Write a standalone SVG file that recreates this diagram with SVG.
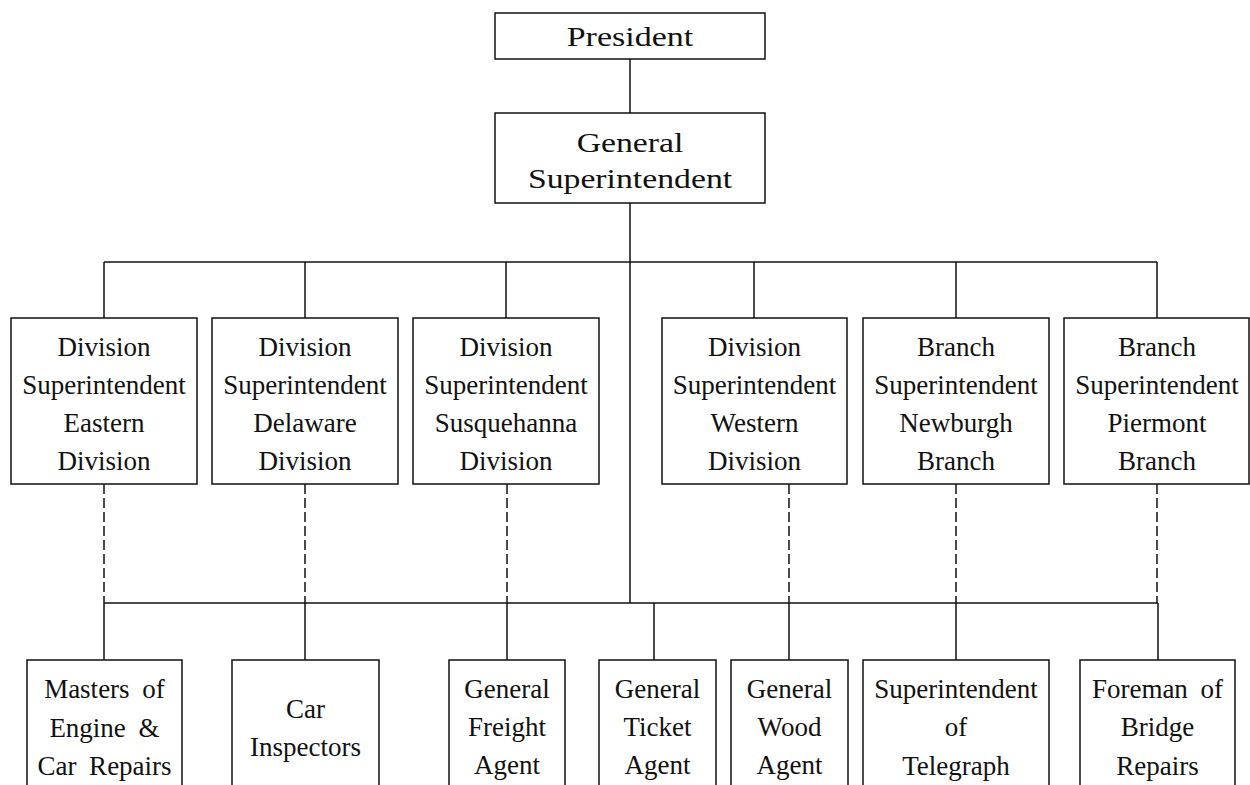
<svg xmlns="http://www.w3.org/2000/svg" width="1250" height="785" viewBox="0 0 1250 785">
<style>
  .box{fill:#fff;stroke:#111;stroke-width:1.5}
  .t{font-family:"Liberation Serif","Times New Roman",serif;font-size:27px;fill:#111;text-anchor:middle}
  .ws{word-spacing:6px}
  .ln{stroke:#111;stroke-width:1.5;fill:none}
  .dash{stroke:#111;stroke-width:1.5;fill:none;stroke-dasharray:10 4}
</style>
<rect width="1250" height="785" fill="#fff"/>
<g id="connectors">
  <line class="ln" x1="630" y1="59" x2="630" y2="113"/>
  <line class="ln" x1="630" y1="203" x2="630" y2="603"/>
  <line class="ln" x1="104" y1="262" x2="1157" y2="262"/>
  <line class="ln" x1="104" y1="262" x2="104" y2="318"/>
  <line class="ln" x1="305" y1="262" x2="305" y2="318"/>
  <line class="ln" x1="506" y1="262" x2="506" y2="318"/>
  <line class="ln" x1="754" y1="262" x2="754" y2="318"/>
  <line class="ln" x1="956" y1="262" x2="956" y2="318"/>
  <line class="ln" x1="1157" y1="262" x2="1157" y2="318"/>
  <line class="dash" x1="104" y1="484" x2="104" y2="603"/>
  <line class="dash" x1="305" y1="484" x2="305" y2="603"/>
  <line class="dash" x1="507" y1="484" x2="507" y2="603"/>
  <line class="dash" x1="789" y1="484" x2="789" y2="603"/>
  <line class="dash" x1="956" y1="484" x2="956" y2="603"/>
  <line class="dash" x1="1157" y1="484" x2="1157" y2="603"/>
  <line class="ln" x1="104" y1="603" x2="1158" y2="603"/>
  <line class="ln" x1="104" y1="603" x2="104" y2="660"/>
  <line class="ln" x1="305" y1="603" x2="305" y2="660"/>
  <line class="ln" x1="507" y1="603" x2="507" y2="660"/>
  <line class="ln" x1="654" y1="603" x2="654" y2="660"/>
  <line class="ln" x1="789" y1="603" x2="789" y2="660"/>
  <line class="ln" x1="956" y1="603" x2="956" y2="660"/>
  <line class="ln" x1="1158" y1="603" x2="1158" y2="660"/>
</g>
<g id="president">
  <rect class="box" x="495" y="13" width="270" height="46"/>
  <text class="t" transform="translate(630,46) scale(1.26,1)">President</text>
</g>
<g id="general-superintendent">
  <rect class="box" x="495" y="113" width="270" height="90"/>
  <text class="t" transform="translate(630,152) scale(1.25,1)">General</text>
  <text class="t" transform="translate(630,188) scale(1.25,1)">Superintendent</text>
</g>
<g id="div-eastern">
  <rect class="box" x="11" y="318" width="186" height="166"/>
  <text class="t" x="104" y="356">Division</text>
  <text class="t" x="104" y="394">Superintendent</text>
  <text class="t" x="104" y="432">Eastern</text>
  <text class="t" x="104" y="470">Division</text>
</g>
<g id="div-delaware">
  <rect class="box" x="212" y="318" width="186" height="166"/>
  <text class="t" x="305" y="356">Division</text>
  <text class="t" x="305" y="394">Superintendent</text>
  <text class="t" x="305" y="432">Delaware</text>
  <text class="t" x="305" y="470">Division</text>
</g>
<g id="div-susquehanna">
  <rect class="box" x="413" y="318" width="186" height="166"/>
  <text class="t" x="506" y="356">Division</text>
  <text class="t" x="506" y="394">Superintendent</text>
  <text class="t" x="506" y="432">Susquehanna</text>
  <text class="t" x="506" y="470">Division</text>
</g>
<g id="div-western">
  <rect class="box" x="662" y="318" width="185" height="166"/>
  <text class="t" x="754.5" y="356">Division</text>
  <text class="t" x="754.5" y="394">Superintendent</text>
  <text class="t" x="754.5" y="432">Western</text>
  <text class="t" x="754.5" y="470">Division</text>
</g>
<g id="branch-newburgh">
  <rect class="box" x="863" y="318" width="186" height="166"/>
  <text class="t" x="956" y="356">Branch</text>
  <text class="t" x="956" y="394">Superintendent</text>
  <text class="t" x="956" y="432">Newburgh</text>
  <text class="t" x="956" y="470">Branch</text>
</g>
<g id="branch-piermont">
  <rect class="box" x="1064" y="318" width="185" height="166"/>
  <text class="t" x="1157" y="356">Branch</text>
  <text class="t" x="1157" y="394">Superintendent</text>
  <text class="t" x="1157" y="432">Piermont</text>
  <text class="t" x="1157" y="470">Branch</text>
</g>
<g id="masters">
  <rect class="box" x="27" y="660" width="155" height="140"/>
  <text class="t ws" x="104.5" y="698">Masters of</text>
  <text class="t ws" x="104.5" y="737">Engine &amp;</text>
  <text class="t ws" x="104.5" y="775">Car Repairs</text>
</g>
<g id="car-inspectors">
  <rect class="box" x="232" y="660" width="147" height="140"/>
  <text class="t" x="305.5" y="718">Car</text>
  <text class="t" x="305.5" y="756">Inspectors</text>
</g>
<g id="freight-agent">
  <rect class="box" x="449" y="660" width="116" height="140"/>
  <text class="t" x="507" y="698">General</text>
  <text class="t" x="507" y="736">Freight</text>
  <text class="t" x="507" y="774">Agent</text>
</g>
<g id="ticket-agent">
  <rect class="box" x="599" y="660" width="117" height="140"/>
  <text class="t" x="657.5" y="698">General</text>
  <text class="t" x="657.5" y="736">Ticket</text>
  <text class="t" x="657.5" y="774">Agent</text>
</g>
<g id="wood-agent">
  <rect class="box" x="731" y="660" width="117" height="140"/>
  <text class="t" x="789.5" y="698">General</text>
  <text class="t" x="789.5" y="736">Wood</text>
  <text class="t" x="789.5" y="774">Agent</text>
</g>
<g id="telegraph">
  <rect class="box" x="863" y="660" width="186" height="140"/>
  <text class="t" x="956" y="698">Superintendent</text>
  <text class="t" x="956" y="736">of</text>
  <text class="t" x="956" y="775">Telegraph</text>
</g>
<g id="bridge-repairs">
  <rect class="box" x="1080" y="660" width="155" height="140"/>
  <text class="t ws" x="1157.5" y="698">Foreman of</text>
  <text class="t" x="1157.5" y="736">Bridge</text>
  <text class="t" x="1157.5" y="775">Repairs</text>
</g>
</svg>
